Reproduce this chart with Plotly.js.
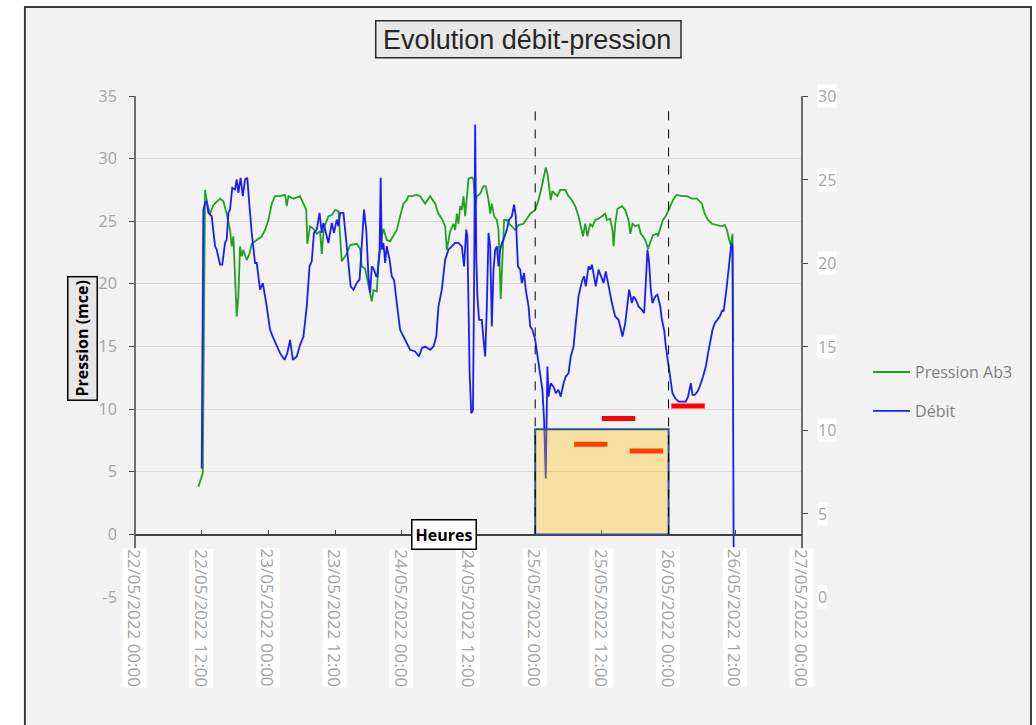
<!DOCTYPE html>
<html>
<head>
<meta charset="utf-8">
<script src="https://cdn.plot.ly/plotly-3.0.1.min.js"></script>
<style>
  html, body { margin: 0; padding: 0; background: #ffffff; }
  #chart { width: 1036px; height: 725px; }
</style>
</head>
<body>
<div id="chart"></div>
<script>
// ---------- DATA (hours counted from 22/05/2022 00:00) ----------
const pressureHours = [11.4,12.2,12.6,13.0,13.5,14.1,15.3,15.9,16.5,17.1,17.4,17.7,18.0,18.3,18.6,18.9,19.2,19.5,20.1,20.6,21.0,21.9,22.8,23.4,24.0,24.6,25.2,26.1,27.0,27.3,27.6,28.5,29.7,30.3,30.8,31.0,31.5,32.1,32.7,33.3,33.6,33.9,34.2,34.8,35.4,36.0,36.6,37.2,38.1,38.7,39.9,40.5,40.8,41.4,41.7,42.3,42.6,42.9,43.5,43.8,44.4,44.7,45.3,45.9,46.5,47.1,47.7,48.3,48.9,49.2,49.8,50.7,51.3,52.2,53.1,54.0,54.6,55.2,55.8,56.1,56.7,57.3,57.6,57.9,58.2,58.5,58.8,59.1,59.4,60.0,60.6,60.9,61.2,61.5,62.1,62.7,63.1,63.6,63.9,64.2,64.6,65.1,65.4,65.7,65.8,66.2,66.4,66.9,67.3,67.8,68.4,69.0,69.9,70.5,71.1,72.0,72.6,73.2,73.6,73.9,74.2,74.5,74.8,75.1,75.6,76.0,76.5,77.4,78.0,78.6,79.2,79.8,80.1,80.6,81.0,81.4,81.9,82.3,82.8,83.4,84.0,84.6,84.9,85.5,85.9,86.1,86.4,86.8,87.6,88.2,88.8,89.1,89.5,90.0,90.6,91.0,91.4,91.9,92.3,92.8,93.2,93.9,94.1,94.6,95.0,95.6,96.3,96.8,97.4,98.4,99.3,100.2,101.1,102.0,102.5,103.1,103.8,104.7,105.6,106.1,106.5,106.9,107.2,107.5,107.6];
const pressureValues = [3.8,4.9,27.5,26.4,25.6,26.3,26.8,26.6,25.6,24.3,23.0,23.8,20.6,17.4,19.0,23.0,22.2,22.7,21.9,22.4,23.2,23.5,23.8,24.3,25.1,26.4,27.0,27.0,27.1,26.2,27.0,26.8,27.0,26.4,25.9,23.2,24.6,24.4,24.0,24.2,22.4,24.0,24.7,25.4,25.5,25.9,25.8,21.8,22.4,23.1,23.2,22.8,21.4,21.2,20.6,19.2,18.6,19.5,19.4,21.6,23.8,24.4,23.5,23.4,23.9,24.3,25.4,26.4,26.7,27.0,27.0,27.1,27.0,26.4,27.0,26.4,25.6,25.2,24.6,22.7,24.2,24.8,24.3,25.6,24.8,26.2,25.9,27.0,25.4,28.4,28.5,28.3,26.2,27.0,27.2,27.8,27.8,26.7,25.6,26.4,25.4,25.1,24.3,20.6,18.8,23.0,25.1,25.1,24.8,24.6,24.3,24.7,24.8,25.2,25.6,25.9,26.7,27.8,28.8,29.3,28.8,27.5,26.7,27.4,27.2,27.0,27.5,27.5,27.0,26.7,26.2,25.4,24.8,23.8,24.8,23.8,24.8,24.6,25.1,25.2,25.4,25.6,25.1,25.2,24.3,23.0,24.8,26.0,26.2,25.9,25.1,24.0,24.8,24.6,24.7,24.0,23.8,23.4,22.8,23.5,23.9,24.0,23.8,24.6,25.1,25.5,26.2,26.7,27.1,27.0,27.0,26.8,26.8,26.4,25.6,25.1,24.8,24.7,24.6,24.7,24.3,23.5,23.1,24.0,15.4];

const debitHours = [12.0,12.3,12.6,12.9,13.2,13.8,14.4,14.7,15.3,15.7,16.2,16.5,16.8,17.1,17.5,18.0,18.3,18.6,19.0,19.4,19.8,20.2,20.6,21.0,21.6,21.9,22.5,23.0,23.7,24.3,24.9,25.5,26.1,26.9,27.4,27.9,28.4,29.1,29.7,30.3,30.9,31.4,31.8,32.2,32.7,33.2,33.6,33.9,34.4,34.8,35.4,35.8,36.3,36.6,36.9,37.5,37.8,38.4,38.8,39.3,39.9,40.4,40.8,41.2,41.6,42.0,42.3,42.6,43.0,43.4,43.6,44.0,44.2,44.4,44.7,45.0,45.3,45.8,46.2,46.6,47.1,47.7,48.3,48.9,49.5,50.4,51.1,51.6,52.2,53.1,53.7,54.2,54.6,55.2,55.8,56.4,57.0,57.6,58.2,58.8,59.2,59.6,59.8,60.0,60.2,60.5,60.8,61.0,61.2,61.4,61.6,61.9,62.4,62.7,63.0,63.3,63.6,63.9,64.2,64.5,64.8,65.1,65.4,65.7,66.0,66.3,66.9,67.3,67.8,68.2,68.5,68.9,69.3,69.6,70.0,70.3,70.8,71.1,71.5,72.0,72.4,72.9,73.3,73.6,73.9,74.2,74.4,74.8,75.3,75.7,76.2,76.6,77.1,77.5,78.0,78.4,78.9,79.3,79.8,80.2,80.5,80.8,81.1,81.6,81.9,82.2,82.6,82.9,83.4,83.8,84.3,84.7,85.2,85.8,86.4,87.0,87.3,87.7,88.2,88.6,88.9,89.4,89.7,90.1,90.6,91.2,91.6,91.9,92.2,92.5,92.8,93.1,93.6,94.0,94.5,94.8,95.2,95.5,96.0,96.3,96.7,97.2,97.8,98.4,99.1,99.5,100.0,100.3,100.7,101.2,101.6,102.2,102.7,103.1,103.6,103.9,104.3,104.8,105.2,105.7,105.9,106.4,106.9,107.3,107.5,107.7];
const debitValues = [7.7,23.2,23.6,23.7,23.0,22.8,21.0,20.8,19.9,19.9,21.2,21.4,23.0,23.2,24.5,24.4,25.0,24.2,25.1,24.0,25.0,25.1,23.4,21.8,20.0,20.0,18.4,18.8,17.4,16.0,15.5,15.0,14.6,14.2,14.6,15.4,14.2,14.4,15.1,15.6,17.4,19.8,20.1,21.8,22.0,23.0,21.8,22.4,21.8,21.2,22.4,21.8,22.6,22.2,23.0,23.0,22.0,20.0,18.6,18.4,18.8,19.0,21.4,23.2,22.0,19.2,18.2,19.8,19.6,19.2,19.2,20.8,25.1,20.8,21.2,20.0,21.0,20.2,19.2,19.0,17.6,16.0,15.6,15.2,14.8,14.7,14.4,14.9,15.0,14.8,15.0,15.6,17.4,18.4,20.2,20.8,21.0,21.2,21.2,21.0,19.8,22.0,21.6,18.4,13.4,11.0,11.2,18.4,28.3,20.4,18.0,16.6,16.6,15.4,14.4,17.4,21.8,21.0,16.2,19.6,20.8,21.0,19.8,20.8,21.2,21.4,22.0,22.6,22.8,23.5,22.8,19.8,19.6,18.8,19.4,18.4,17.4,16.2,16.0,15.4,14.4,13.4,12.4,10.6,7.1,13.8,12.0,12.8,12.6,12.2,12.4,12.0,12.8,13.2,13.4,14.4,15.0,16.4,18.0,18.6,19.0,19.2,18.6,19.8,19.6,19.9,19.2,18.6,19.6,19.2,18.8,19.5,18.6,17.6,16.8,16.6,16.2,15.6,16.4,17.4,18.4,17.6,18.0,17.8,17.4,17.2,17.0,18.8,20.8,20.0,18.4,17.6,18.0,18.1,17.4,16.6,16.0,15.0,13.8,13.0,12.2,11.9,11.7,11.7,11.7,12.0,12.8,12.1,12.1,12.3,12.6,13.2,13.8,14.6,15.6,16.0,16.4,16.6,16.8,17.2,17.1,18.4,20.0,21.2,21.0,3.0];

// Target segments (pressure, mce)
const targetStartHours = [79.0, 84.0, 89.0, 96.5];
const targetEndHours   = [85.0, 90.0, 95.0, 102.5];
const targetValues     = [7.2, 9.25, 6.65, 10.25];

// Highlighted window
const windowStartHour = 72;
const windowEndHour = 96;
const windowTop = 8.4;
const markerTop = 34.4;

// Axes
const xTickHours = [0,12,24,36,48,60,72,84,96,108,120];
const xTickLabels = ["22/05/2022 00:00","22/05/2022 12:00","23/05/2022 00:00","23/05/2022 12:00","24/05/2022 00:00","24/05/2022 12:00","25/05/2022 00:00","25/05/2022 12:00","26/05/2022 00:00","26/05/2022 12:00","27/05/2022 00:00"];
const leftTicks = [-5,0,5,10,15,20,25,30,35];
const leftTickLabels = ["-5","0","5","10","15","20","25","30","35"];
const rightTicks = [0,5,10,15,20,25,30];

// ---------- helpers ----------
function pad(n){ return (n < 10 ? "0" : "") + n; }
function toDate(h){
  const d = new Date(Date.UTC(2022, 4, 22) + Math.round(h * 60) * 60000);
  return d.getUTCFullYear() + "-" + pad(d.getUTCMonth() + 1) + "-" + pad(d.getUTCDate()) +
         " " + pad(d.getUTCHours()) + ":" + pad(d.getUTCMinutes()) + ":00";
}

const FONT = "Open Sans, Noto Sans, sans-serif";
const GREY = "#a3a3a3";

const traces = [
  {
    x: pressureHours.map(toDate), y: pressureValues, name: "Pression Ab3",
    type: "scatter", mode: "lines", yaxis: "y",
    line: { color: "#21a121", width: 1.8 },
    legendgroup: "p"
  },
  {
    x: debitHours.map(toDate), y: debitValues, name: "Débit",
    type: "scatter", mode: "lines", yaxis: "y2",
    line: { color: "#1b1bff", width: 1.8 },
    legendgroup: "d"
  }
];
targetValues.forEach(function(v, i){
  traces.push({
    x: [toDate(targetStartHours[i]), toDate(targetEndHours[i])], y: [v, v],
    type: "scatter", mode: "lines", yaxis: "y", showlegend: false,
    line: { color: "#ff0000", width: 5 }, hoverinfo: "skip"
  });
});

const shapes = [
  // outer frame
  { type: "rect", xref: "paper", yref: "paper", x0: -0.165, x1: 1.3433, y0: -0.3, y1: 1.1776,
    fillcolor: "#f2f2f2", line: { color: "#3c3c3c", width: 2 }, layer: "below" },
  // title box
  { type: "rect", xref: "paper", yref: "paper", x0: 0.3609, x1: 0.8186, y0: 1.0764, y1: 1.1503,
    fillcolor: "#e7e7e7", line: { color: "#2a2a2a", width: 1.5 }, layer: "above" },
  // y axis lines (from 0 to 35)
  { type: "line", xref: "paper", yref: "y", x0: 0, x1: 0, y0: -1.1, y1: 35,
    line: { color: "#404040", width: 1.5 }, layer: "above" },
  { type: "line", xref: "paper", yref: "y", x0: 1, x1: 1, y0: -1.1, y1: 35,
    line: { color: "#404040", width: 1.5 }, layer: "above" },
  // highlighted window
  { type: "rect", xref: "x", yref: "y", x0: toDate(windowStartHour), x1: toDate(windowEndHour),
    y0: 0, y1: windowTop, fillcolor: "rgba(255,192,0,0.33)",
    line: { color: "#2f5391", width: 2 }, layer: "above" },
  // dashed markers
  { type: "line", xref: "x", yref: "y", x0: toDate(windowStartHour), x1: toDate(windowStartHour),
    y0: 0, y1: markerTop, line: { color: "#000000", width: 1, dash: "dash" }, layer: "above" },
  { type: "line", xref: "x", yref: "y", x0: toDate(windowEndHour), x1: toDate(windowEndHour),
    y0: 0, y1: markerTop, line: { color: "#000000", width: 1, dash: "dash" }, layer: "above" }
];

const annotations = [];
xTickHours.forEach(function(h, i){
  annotations.push({
    xref: "x", yref: "paper", x: toDate(h), y: 0.0978, xanchor: "center", yanchor: "top",
    text: xTickLabels[i], textangle: 90, showarrow: false,
    font: { family: FONT, size: 17, color: GREY }, bgcolor: "#ffffff", borderpad: 0
  });
});
rightTicks.forEach(function(v){
  annotations.push({
    xref: "paper", yref: "y2", x: 1, y: v, xanchor: "left", yanchor: "middle", xshift: 15,
    text: String(v), showarrow: false,
    font: { family: FONT, size: 16, color: GREY }, bgcolor: "#ffffff", borderpad: 0
  });
});
annotations.push({
  xref: "paper", yref: "paper", x: -0.078, y: 0.517, xanchor: "center", yanchor: "middle",
  text: "<b>Pression (mce)</b>", textangle: -90, showarrow: false,
  font: { family: FONT, size: 16, color: "#000000" },
  bgcolor: "#e7e7e7", bordercolor: "#000000", borderwidth: 1.5, borderpad: 3
});
annotations.push({
  xref: "paper", yref: "y", x: 0.4635, y: 0, xanchor: "center", yanchor: "middle",
  text: "<b>Heures</b>", showarrow: false,
  font: { family: FONT, size: 16, color: "#000000" },
  bgcolor: "#ffffff", bordercolor: "#000000", borderwidth: 1.5, borderpad: 3
});

const layout = {
  width: 1036, height: 725,
  margin: { l: 135, r: 234, t: 96, b: 128 },
  paper_bgcolor: "#ffffff",
  plot_bgcolor: "rgba(0,0,0,0)",
  font: { family: FONT, color: GREY },
  title: {
    text: "Evolution débit-pression",
    font: { family: "Liberation Sans, Arial, sans-serif", size: 27, color: "#262626" },
    xref: "paper", x: 0.588, xanchor: "center",
    yref: "container", y: 0.946, yanchor: "middle"
  },
  xaxis: {
    type: "date",
    range: [toDate(0), toDate(120)],
    anchor: "free", position: 0.125,
    showline: true, linecolor: "#404040", linewidth: 1.5,
    ticks: "inside", ticklen: 4, tickcolor: "#404040",
    tick0: toDate(0), dtick: 12 * 3600 * 1000,
    showticklabels: false, showgrid: false, zeroline: false
  },
  yaxis: {
    range: [-5, 35], tickvals: leftTicks, ticktext: leftTickLabels,
    showline: false, zeroline: false,
    showgrid: true, gridcolor: "#d9d9d9", gridwidth: 1,
    ticks: "outside", ticklen: 5, tickcolor: "#404040",
    ticklabelstandoff: 9,
    tickfont: { family: FONT, size: 16, color: GREY }
  },
  yaxis2: {
    range: [0, 30], overlaying: "y", side: "right", anchor: "x",
    tickvals: rightTicks.filter(function(v){ return v > 0; }),
    showline: false, zeroline: false, showgrid: false,
    ticks: "outside", ticklen: 5, tickcolor: "#404040",
    showticklabels: false
  },
  showlegend: true,
  legend: {
    x: 1.099, xanchor: "left", y: 0.41, yanchor: "middle",
    bgcolor: "rgba(0,0,0,0)", borderwidth: 0,
    traceorder: "grouped", tracegroupgap: 15, itemwidth: 37,
    font: { family: FONT, size: 16, color: "#808080" }
  },
  shapes: shapes,
  annotations: annotations
};

Plotly.newPlot("chart", traces, layout, { displayModeBar: false, staticPlot: true });
</script>
</body>
</html>
